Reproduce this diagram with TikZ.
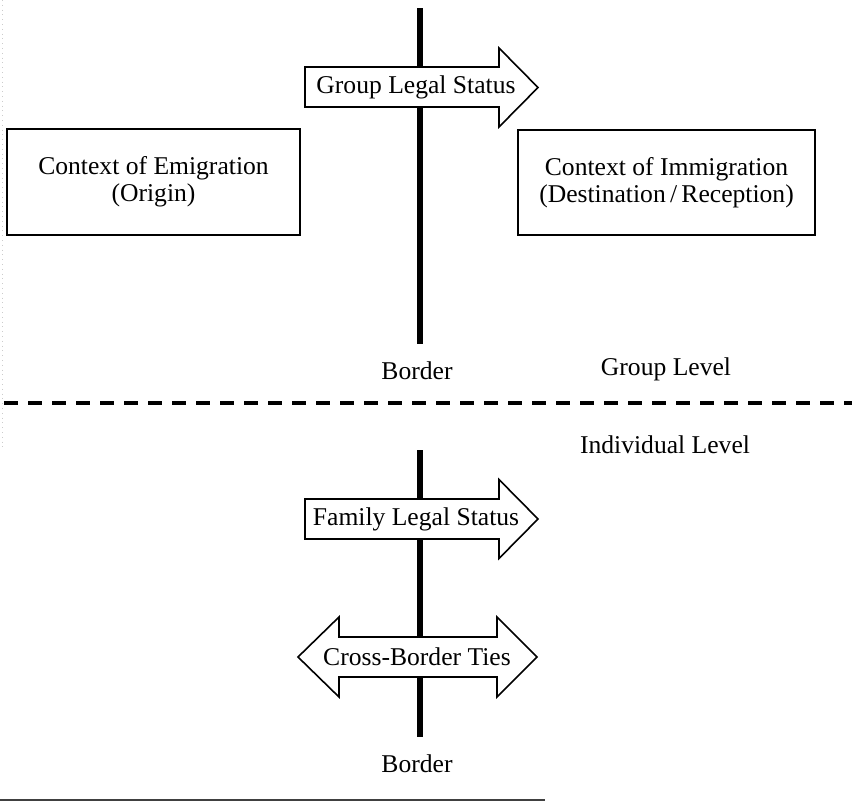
\documentclass[tikz,border=0pt]{standalone}
\usepackage{fontspec}
\setmainfont{Liberation Serif}
\begin{document}
\begin{tikzpicture}[x=0.5pt,y=-0.5pt,
  txt/.style={font=\fontsize{12.8pt}{13.5pt}\selectfont, inner sep=0pt},
  ctxbox/.style={draw, line width=1pt, fill=white, align=center,
    font=\fontsize{12.8pt}{13.5pt}\selectfont, inner sep=0pt},
  blockarrow/.style={draw, line width=0.8pt, fill=white, line join=miter},
  borderline/.style={line width=3pt},
  levelsep/.style={line width=2.3pt, dash pattern=on 7pt off 5pt, dash phase=-2pt},
  scanrule/.style={line width=0.8pt, black!75}]
\useasboundingbox (0,0) rectangle (852,803);

% faint scan edge
\draw[gray!40, line width=0.4pt, dotted] (2,0) -- (2,450);

% ---- group level ----
\coordinate (b1top) at (420,8);
\coordinate (b1bot) at (420,344);
\draw[borderline] (b1top) -- (b1bot);

\node[ctxbox, minimum width=146.5pt, minimum height=53pt] (emig) at (153.5,182)
  {Context of Emigration\\(Origin)};
\node[ctxbox, minimum width=148.5pt, minimum height=52.5pt] (immig) at (666.5,182.5)
  {Context of Immigration\\(Destination\,/\,Reception)};

\draw[blockarrow] (305,67) -- (499,67) -- (499,48) -- (538,87.5) -- (499,127)
  -- (499,107) -- (305,107) -- cycle;
\node[txt] (gls) at (416,87.5) {Group Legal Status};

\node[txt, anchor=base] (border1) at (417,379) {Border};
\node[txt, anchor=base] (grouplvl) at (666,375) {Group Level};

% ---- separator ----
\coordinate (sepL) at (0,403);
\coordinate (sepR) at (852,403);
\draw[levelsep] (sepL) -- (sepR);

% ---- individual level ----
\node[txt, anchor=base] (indlvl) at (665,453) {Individual Level};

\coordinate (b2top) at (420,450);
\coordinate (b2bot) at (420,737);
\draw[borderline] (b2top) -- (b2bot);

\draw[blockarrow] (305,499) -- (499,499) -- (499,479.5) -- (538,519) -- (499,558.5)
  -- (499,539) -- (305,539) -- cycle;
\node[txt] (fls) at (416,519) {Family Legal Status};

\draw[blockarrow] (298,657) -- (339,617) -- (339,637) -- (497,637) -- (497,617)
  -- (537,657) -- (497,697) -- (497,677) -- (339,677) -- (339,697) -- cycle;
\node[txt] (cbt) at (417,657) {Cross-Border Ties};

\node[txt, anchor=base] (border2) at (417,772) {Border};

% page rule at the bottom
\coordinate (ruleL) at (0,800);
\coordinate (ruleR) at (545,800);
\draw[scanrule] (ruleL) -- (ruleR);
\end{tikzpicture}
\end{document}
